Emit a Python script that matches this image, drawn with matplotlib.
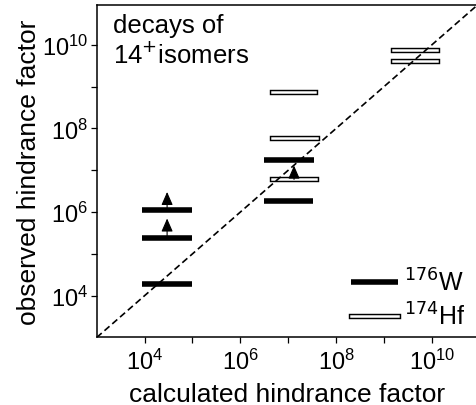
import matplotlib
matplotlib.use('Agg')
import matplotlib.pyplot as plt
from matplotlib.lines import Line2D
from matplotlib import patheffects as pe
from matplotlib.ticker import FixedLocator, LogFormatterSciNotation, NullFormatter

plt.rcParams['font.family'] = ['Liberation Sans', 'DejaVu Sans']

# all values are log10 of the hindrance factors
# 176W bars: calculated range (lo..hi) and observed value
w_lo = [3.95, 3.95, 3.95, 6.50, 6.49]
w_hi = [4.99, 4.99, 4.99, 7.54, 7.51]
w_obs = [6.04, 5.38, 4.27, 7.25, 6.26]

# 174Hf bars
hf_lo = [6.66, 6.66, 6.66, 9.19, 9.19]
hf_hi = [7.56, 7.59, 7.57, 10.11, 10.11]
hf_obs = [8.87, 7.78, 6.78, 9.885, 9.60]

# lower limits (arrows)
lim_x = [4.47, 4.47, 7.12]
lim_from = [6.04, 5.38, 6.78]
lim_to = [6.48, 5.845, 7.11]

diag = [1e3, 1e11]
major_exp = [4, 6, 8, 10]
minor_exp = [5, 7, 9]

fig = plt.figure(figsize=(4.77, 4.06), dpi=100)
ax = fig.add_axes([0.2027, 0.1663, 0.7973, 0.8189])
ax.set_xscale('log')
ax.set_yscale('log')

ax.plot(diag, diag, color='k', lw=1.2, linestyle=(0, (4, 2.2)), zorder=4)

for lo, hi, y in zip(w_lo, w_hi, w_obs):
    ax.plot([10 ** lo, 10 ** hi], [10 ** y, 10 ** y], color='k', lw=4,
            solid_capstyle='butt', zorder=2)

hf_fx = [pe.Stroke(linewidth=3.9, foreground='k', capstyle='projecting'), pe.Normal()]
for lo, hi, y in zip(hf_lo, hf_hi, hf_obs):
    ax.plot([10 ** lo, 10 ** hi], [10 ** y, 10 ** y], color='w', lw=1.8,
            solid_capstyle='projecting', path_effects=hf_fx, zorder=2)

for x, fr, to in zip(lim_x, lim_from, lim_to):
    ax.annotate('', xy=(10 ** x, 10 ** to), xytext=(10 ** x, 10 ** fr),
                arrowprops=dict(arrowstyle='-|>,head_length=0.8,head_width=0.35',
                                color='k', lw=0.8, shrinkA=0, shrinkB=0),
                zorder=3)

ax.set_xlim(1e3, 10 ** 10.94)
ax.set_ylim(1e3, 10 ** 10.95)

for axis in (ax.xaxis, ax.yaxis):
    axis.set_major_locator(FixedLocator([10.0 ** e for e in major_exp]))
    axis.set_major_formatter(LogFormatterSciNotation())
    axis.set_minor_locator(FixedLocator([10.0 ** e for e in minor_exp]))
    axis.set_minor_formatter(NullFormatter())
ax.tick_params(which='both', direction='out', length=4, width=0.9,
               labelsize=17, pad=2)
ax.tick_params(axis='x', which='major', pad=4)

ax.spines['right'].set_visible(False)
for s in ('left', 'bottom', 'top'):
    ax.spines[s].set_linewidth(1.1)

ax.set_xlabel('calculated hindrance factor', fontsize=19, labelpad=6)
ax.set_ylabel('observed hindrance factor', fontsize=19, labelpad=1)

ax.text(0.042, 0.975, 'decays of\n14$^{+}$isomers', transform=ax.transAxes,
        ha='left', va='top', fontsize=18.5)

handles = [
    Line2D([], [], color='k', lw=4, solid_capstyle='butt'),
    Line2D([], [], color='w', lw=1.8, solid_capstyle='projecting', path_effects=hf_fx),
]
ax.legend(handles, ['$^{176}$W', '$^{174}$Hf'], loc='lower right', frameon=False,
          fontsize=18, handlelength=1.9, handletextpad=0.25, labelspacing=0.27,
          borderaxespad=0.0, borderpad=0.3, bbox_to_anchor=(0.99, 0.0))

fig.savefig('out.png', dpi=100)
